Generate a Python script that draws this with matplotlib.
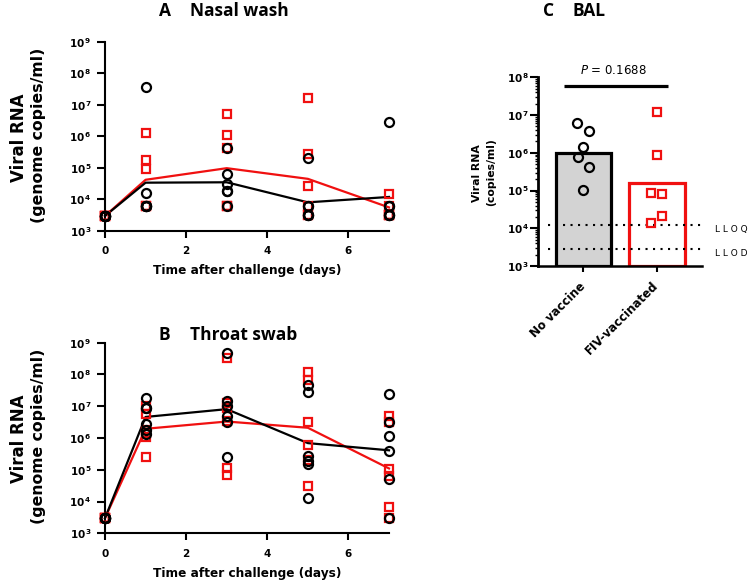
import numpy as np
import matplotlib
matplotlib.use("Agg")
import matplotlib.pyplot as plt
from matplotlib.ticker import FixedLocator, NullLocator, LogLocator, FixedFormatter

plt.rcParams['font.family'] = ['DejaVu Sans']
plt.rcParams['mathtext.fontset'] = 'dejavusans'

# ---------------- data ----------------
days = [0, 1, 3, 5, 7]

# Nasal wash (A) - individual animals per day
nasal_novac = [
    [3000] * 6,
    [3.7e7, 1.6e4, 6300, 6300, 6300, 6300],
    [4.2e5, 6.3e4, 3.0e4, 1.9e4, 1.9e4, 6300],
    [2.0e5, 6300, 6300, 3100, 3100, 3100],
    [2.75e6, 6300, 6300, 3100, 3100, 3100],
]
nasal_fiv = [
    [3000] * 6,
    [1.25e6, 1.8e5, 9.3e4, 6300, 6300, 6300],
    [5.1e6, 1.07e6, 4.2e5, 6300, 6300, 6300],
    [1.7e7, 2.7e5, 2.75e4, 6300, 3100, 3100],
    [1.5e4, 6300, 3100, 3100, 3100, 3100],
]
nasal_novac_mean = [3000, 3.4e4, 3.5e4, 8.1e3, 1.2e4]
nasal_fiv_mean = [3000, 4.2e4, 9.8e4, 4.5e4, 5.6e3]

# Throat swab (B)
throat_novac = [
    [3000] * 6,
    [1.8e7, 8.5e6, 8.5e6, 2.8e6, 1.8e6, 1.35e6],
    [4.6e8, 1.45e7, 1.0e7, 4.8e6, 3.3e6, 2.45e5],
    [4.5e7, 2.75e7, 2.8e5, 1.9e5, 1.5e5, 1.26e4],
    [2.35e7, 3.1e6, 1.12e6, 3.8e5, 5.1e4, 3100],
]
throat_fiv = [
    [3000] * 6,
    [1.0e7, 5.5e6, 1.8e6, 1.4e6, 1.1e6, 2.6e5],
    [3.4e8, 1.3e7, 8.9e6, 3.5e6, 1.1e5, 6.9e4],
    [1.2e8, 6.9e7, 3.2e6, 5.9e5, 2.0e5, 3.0e4],
    [5.0e6, 3.3e6, 1.07e5, 6.5e4, 6600, 3100],
]
throat_novac_mean = [3000, 4.6e6, 8.1e6, 6.9e5, 4.1e5]
throat_fiv_mean = [3000, 1.95e6, 3.3e6, 2.1e6, 1.1e5]

# BAL (C)
bal_groups = ["No vaccine", "FIV-vaccinated"]
bal_novac = [6.0e6, 3.8e6, 1.45e6, 7.6e5, 4.3e5, 1.02e5]
bal_fiv = [1.17e7, 8.5e5, 8.7e4, 8.1e4, 2.05e4, 1.35e4]
bal_bar = [9.8e5, 1.55e5]
lloq = 1.23e4
llod = 2.9e3
p_text = "0.1688"

# ---------------- layout ----------------
W, H = 750, 581
RED = '#f01010'
fig = plt.figure(figsize=(W / 100, H / 100), dpi=100)


def px_axes(l, r, t, b):
    return fig.add_axes([l / W, 1 - b / H, (r - l) / W, (b - t) / H])


def ftext(x, y, s, **kw):
    return fig.text(x / W, 1 - y / H, s, **kw)


def ylabels(k):
    return [r'$\mathbf{10}^{\,\mathbf{%d}}$' % e for e in k]


def timecourse(ax, novac, fiv, novac_mean, fiv_mean):
    ax.plot(days, fiv_mean, color=RED, lw=1.6, zorder=2, clip_on=False)
    ax.plot(days, novac_mean, color='black', lw=1.6, zorder=2, clip_on=False)
    for d, vals in zip(days, fiv):
        ax.plot([d] * len(vals), vals, ls='none', marker='s', ms=6.3, mfc='none',
                mec=RED, mew=1.6, zorder=3, clip_on=False)
    for d, vals in zip(days, novac):
        ax.plot([d] * len(vals), vals, ls='none', marker='o', ms=6.5, mfc='none',
                mec='black', mew=1.6, zorder=4, clip_on=False)
    ax.set_yscale('log')
    ax.set_ylim(1e3, 1e9)
    ax.set_xlim(0, 7)
    exps = list(range(3, 10))
    ax.yaxis.set_major_locator(FixedLocator([10.0 ** e for e in exps]))
    ax.yaxis.set_major_formatter(FixedFormatter(ylabels(exps)))
    ax.yaxis.set_minor_locator(NullLocator())
    ax.set_xticks([0, 2, 4, 6])
    ax.set_xticklabels(['0', '2', '4', '6'], fontsize=7.5, fontweight='bold')
    for sp in ['top', 'right']:
        ax.spines[sp].set_visible(False)
    for sp in ['left', 'bottom']:
        ax.spines[sp].set_linewidth(1.5)
    ax.tick_params(axis='y', which='major', length=6, width=1.5, pad=3.5, labelsize=7.5)
    ax.tick_params(axis='x', which='major', length=5, width=1.5, pad=6)


# Panel A
axA = px_axes(105, 389, 41.7, 231)
timecourse(axA, nasal_novac, nasal_fiv, nasal_novac_mean, nasal_fiv_mean)
# Panel B
axB = px_axes(105, 389, 342.7, 533.3)
timecourse(axB, throat_novac, throat_fiv, throat_novac_mean, throat_fiv_mean)

# axis labels A/B
for off in (0, 301):
    ftext(19, 137.5 + off, 'Viral RNA', rotation=90, ha='center', va='center',
          fontsize=12, fontweight='bold')
    ftext(39, 135.5 + off, '(genome copies/ml)', rotation=90, ha='center', va='center',
          fontsize=11.3, fontweight='bold')
ftext(247.5, 270.7, 'Time after challenge (days)', ha='center', va='center',
      fontsize=8.7, fontweight='bold')
ftext(247.5, 573.3, 'Time after challenge (days)', ha='center', va='center',
      fontsize=8.7, fontweight='bold')

# titles
tkw = dict(family=['Open Sans', 'DejaVu Sans'], fontweight='bold', fontsize=12.5,
           ha='left', va='baseline')
ftext(159, 15.5, 'A', **tkw)
ftext(190, 15.5, 'Nasal wash', **tkw)
ftext(159, 340, 'B', **tkw)
ftext(190, 340, 'Throat swab', **tkw)
ftext(543, 15.5, 'C', **tkw)
ftext(572, 15.5, 'BAL', **tkw)

# Panel C
axC = px_axes(538.3, 701.7, 77.3, 266)
xpos = [0, 1]
jit_novac = [-0.09, 0.078, -0.008, -0.076, 0.078, 0.0]
jit_fiv = [0.0, 0.0, -0.082, 0.072, 0.072, -0.082]
axC.set_yscale('log')
axC.bar(xpos[0], bal_bar[0] - 1e3, bottom=1e3, width=0.755, color='#d3d3d3',
        edgecolor='black', linewidth=2.3, zorder=1)
axC.bar(xpos[1], bal_bar[1] - 1e3, bottom=1e3, width=0.76, color='white',
        edgecolor=RED, linewidth=2.3, zorder=1)
axC.plot([xpos[0] + j for j in jit_novac], bal_novac, ls='none', marker='o', ms=6.5,
         mfc='none', mec='black', mew=1.6, zorder=4)
axC.plot([xpos[1] + j for j in jit_fiv], bal_fiv, ls='none', marker='s', ms=6.3,
         mfc='none', mec=RED, mew=1.6, zorder=4)
for yv in (lloq, llod):
    axC.plot([-0.48, 1.613], [yv, yv], color='black', lw=1.5,
             ls=(0, (1, 2.6)), zorder=3, clip_on=False)
axC.set_xlim(-0.613, 1.613)
axC.set_ylim(1e3, 1e8)
expsC = list(range(3, 9))
axC.yaxis.set_major_locator(FixedLocator([10.0 ** e for e in expsC]))
axC.yaxis.set_major_formatter(FixedFormatter(ylabels(expsC)))
axC.yaxis.set_minor_locator(LogLocator(base=10, subs=np.arange(2, 10), numticks=20))
axC.set_xticks(xpos)
axC.set_xticklabels(bal_groups, rotation=45, ha='right', va='center',
                    rotation_mode='anchor', fontsize=8.5, fontweight='bold')
for sp in ['top', 'right']:
    axC.spines[sp].set_visible(False)
axC.spines['left'].set_linewidth(2)
axC.spines['bottom'].set_linewidth(1.8)
axC.tick_params(axis='y', which='major', length=5.5, width=1.5, pad=1, labelsize=7.5)
axC.tick_params(axis='y', which='minor', length=2.5, width=1.0)
axC.tick_params(axis='x', which='major', length=4, width=1.5, pad=9)

# significance bar
axC.plot([-0.26, 1.15], [5.9e7, 5.9e7], color='black', lw=2.3, clip_on=False,
         solid_capstyle='butt')
ftext(613, 70.5, r'$\it{P}$ = ' + p_text, ha='center', va='center', fontsize=8.5)

# LLOQ / LLOD labels
ftext(715, 229.5, 'L L O Q', ha='left', va='center', fontsize=6.5)
ftext(715, 253.5, 'L L O D', ha='left', va='center', fontsize=6.5)

# C y label
ftext(477, 173.5, 'Viral RNA', rotation=90, ha='center', va='center',
      fontsize=7.8, fontweight='bold')
ftext(491, 172.5, '(copies/ml)', rotation=90, ha='center', va='center',
      fontsize=7.8, fontweight='bold')

fig.savefig('out.png', dpi=100)
